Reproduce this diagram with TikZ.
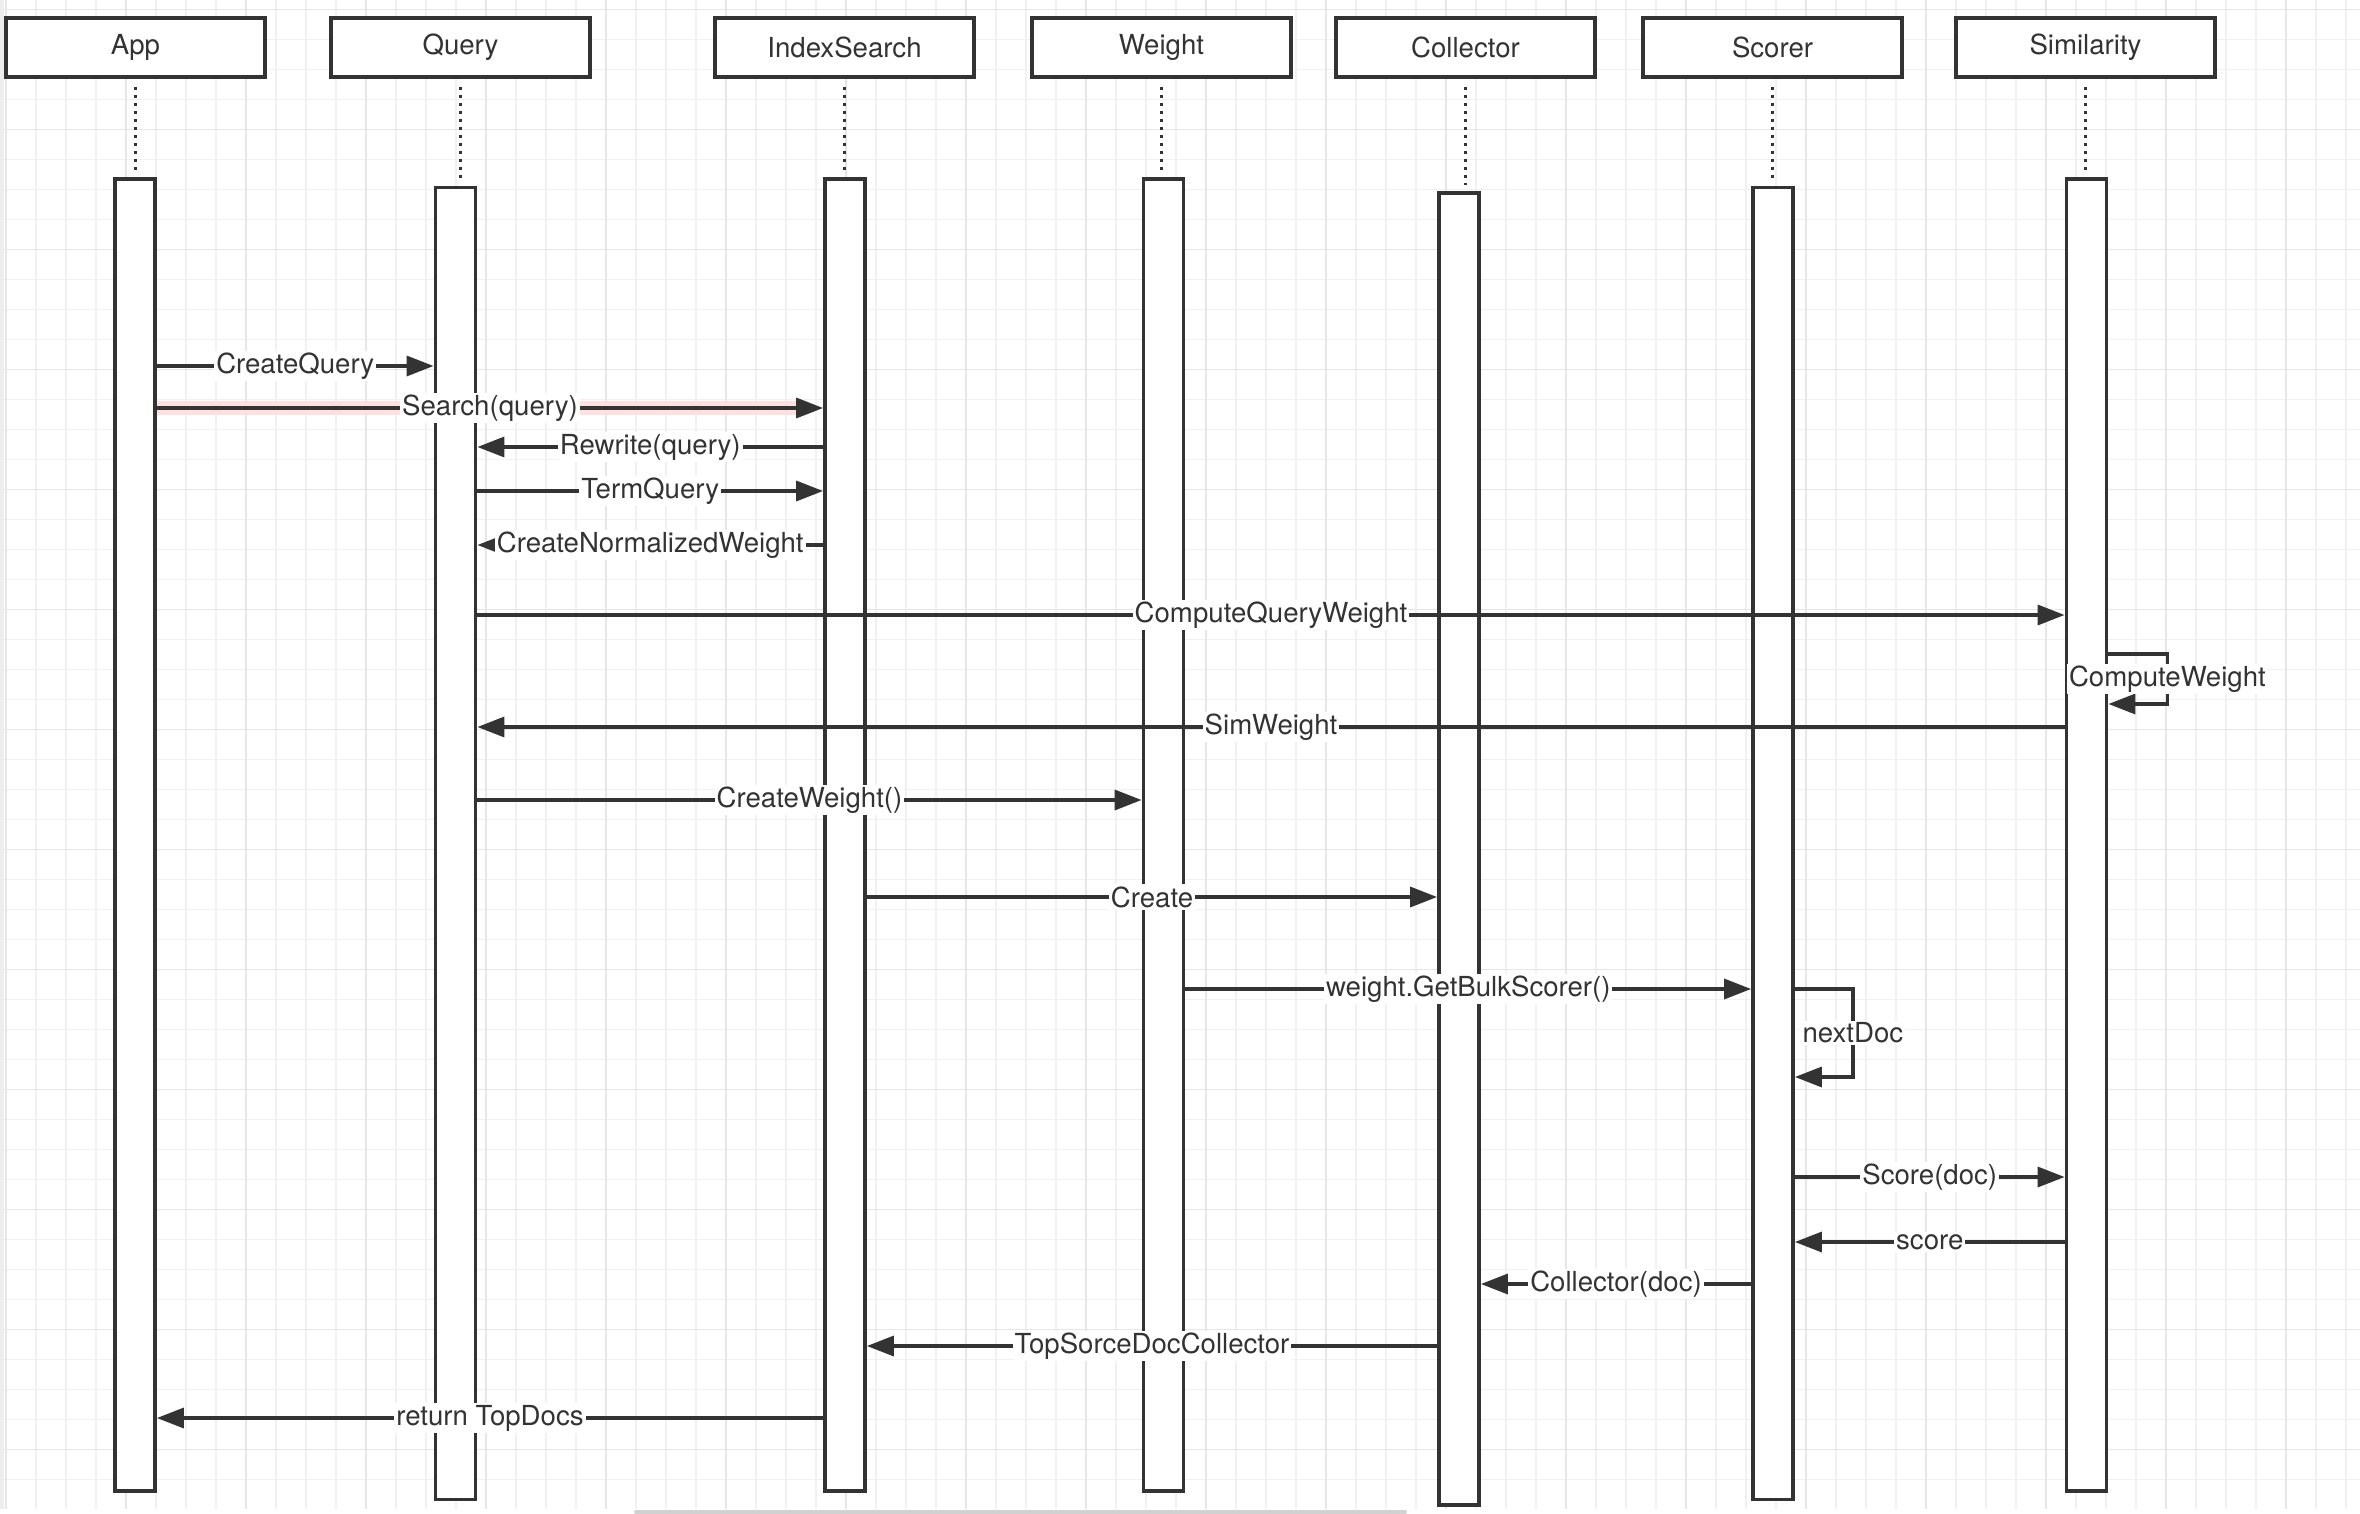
\documentclass[tikz,border=0pt]{standalone}
\usepackage{fontspec}
\setmainfont{TeX Gyre Heros}
\usetikzlibrary{arrows.meta}
\definecolor{ink}{HTML}{333333}
\definecolor{gridlo}{HTML}{F1F1F1}
\definecolor{gridhi}{HTML}{E6E6E6}
\begin{document}
\begin{tikzpicture}[x=0.5pt,y=-0.5pt,
    head/.style={draw=ink,line width=1.9pt,fill=white,minimum width=129.5pt,minimum height=29.5pt,inner sep=0pt,text=ink,font=\fontsize{13.8}{16}\selectfont},
    bar/.style={draw=ink,line width=1.9pt,fill=white,minimum width=20pt,minimum height=656pt,inner sep=0pt},
    lifeline/.style={ink,line width=1.6pt,dash pattern=on 1.6pt off 2.4pt},
    msg/.style={ink,line width=1.7pt,-{Triangle[length=13.5pt,width=10pt]}},
    lbl/.style={fill=white,inner sep=1pt,text=ink,font=\fontsize{13.8}{16}\selectfont},
    glow/.style={red!12,line width=7pt}]
\useasboundingbox (0,0) rectangle (2360,1514);
% grid
\fill[white] (0,0) rectangle (2360,1514);
\foreach \i in {0,...,78} \draw[gridlo,line width=0.6pt] ({6+30*\i},0) -- ({6+30*\i},1509);
\foreach \i in {0,...,49} \draw[gridlo,line width=0.6pt] (0,{9.5+30*\i}) -- (2360,{9.5+30*\i});
\foreach \i in {0,...,19} \draw[gridhi,line width=0.9pt] ({6+120*\i},0) -- ({6+120*\i},1509);
\foreach \i in {0,...,12} \draw[gridhi,line width=0.9pt] (0,{9.5+120*\i}) -- (2360,{9.5+120*\i});
\fill[black!7] (0,0) rectangle (4,1509);
\fill[black!18,rounded corners=1pt] (634,1510) rectangle (1407,1514);

% objects
\node[head] (app) at (135.5,47.5) {App};
\node[head] (query) at (460.5,47.5) {Query};
\node[head] (isearch) at (844.5,47.5) {IndexSearch};
\node[head] (weight) at (1161.5,47.5) {Weight};
\node[head] (coll) at (1465.5,47.5) {Collector};
\node[head] (scorer) at (1772.5,47.5) {Scorer};
\node[head] (sim) at (2085.5,47.5) {Similarity};

\node[bar] (appbar) at (135,835) {};
\node[bar] (qbar) at (455.5,843.5) {};
\node[bar] (isbar) at (845,835) {};
\node[bar] (wbar) at (1163.5,835) {};
\node[bar] (cbar) at (1459,849) {};
\node[bar] (sbar) at (1773,843.5) {};
\node[bar] (simbar) at (2086.5,835) {};

\foreach \h/\b in {app/appbar,query/qbar,isearch/isbar,weight/wbar,coll/cbar,scorer/sbar,sim/simbar}
    \draw[lifeline] ([yshift=-4pt]\h.south) -- ([yshift=3pt]\h.south |- \b.north);

% messages
\draw[glow] (appbar.east |- 0,408) -- ([xshift=-12pt]isbar.west |- 0,408);
\draw[msg] (appbar.east |- 0,366) -- node[lbl]{CreateQuery} (qbar.west |- 0,366);
\draw[msg] (appbar.east |- 0,408) -- node[lbl]{Search(query)} (isbar.west |- 0,408);
\draw[msg] (isbar.west |- 0,447) -- node[lbl]{Rewrite(query)} (qbar.east |- 0,447);
\draw[msg] (qbar.east |- 0,491) -- node[lbl]{TermQuery} (isbar.west |- 0,491);
\draw[msg] (isbar.west |- 0,545) -- node[lbl]{CreateNormalizedWeight} (qbar.east |- 0,545);
\draw[msg] (qbar.east |- 0,615) -- node[lbl]{ComputeQueryWeight} (simbar.west |- 0,615);
\draw[msg] (simbar.east |- 0,654) -- ++(59,0) -- node[lbl]{ComputeWeight} ++(0,50) -- (simbar.east |- 0,704);
\draw[msg] (simbar.west |- 0,727) -- node[lbl]{SimWeight} (qbar.east |- 0,727);
\draw[msg] (qbar.east |- 0,800) -- node[lbl]{CreateWeight()} (wbar.west |- 0,800);
\draw[msg] (isbar.east |- 0,897) -- node[lbl]{Create} (cbar.west |- 0,897);
\draw[msg] (wbar.east |- 0,989) -- node[lbl]{weight.GetBulkScorer()} (sbar.west |- 0,989);
\draw[msg] (sbar.east |- 0,989) -- ++(58,0) -- node[lbl]{nextDoc} ++(0,88) -- (sbar.east |- 0,1077);
\draw[msg] (sbar.east |- 0,1177) -- node[lbl]{Score(doc)} (simbar.west |- 0,1177);
\draw[msg] (simbar.west |- 0,1242) -- node[lbl]{score} (sbar.east |- 0,1242);
\draw[msg] (sbar.west |- 0,1284) -- node[lbl]{Collector(doc)} (cbar.east |- 0,1284);
\draw[msg] (cbar.west |- 0,1346) -- node[lbl]{TopSorceDocCollector} (isbar.east |- 0,1346);
\draw[msg] (isbar.west |- 0,1418) -- node[lbl]{return TopDocs} (appbar.east |- 0,1418);
\end{tikzpicture}
\end{document}
